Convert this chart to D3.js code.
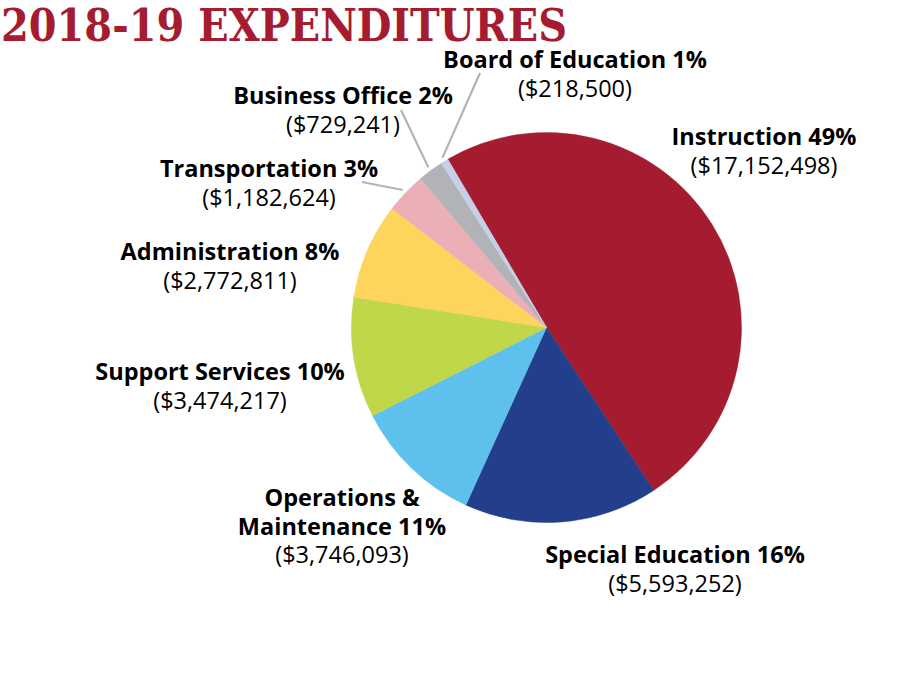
<!DOCTYPE html>
<html>
<head>
<meta charset="utf-8">
<script src="https://cdn.jsdelivr.net/npm/d3@7"></script>
<style>
  body { margin: 0; background: #fff; }
  svg { display: block; }
</style>
</head>
<body>
<svg id="chart" width="915" height="675"></svg>
<script>
// expenditure categories, clockwise from the top
var categories = ["Instruction", "Special Education", "Operations & Maintenance", "Support Services",
                  "Administration", "Transportation", "Business Office", "Board of Education"];
var amounts = [17152498, 5593252, 3746093, 3474217, 2772811, 1182624, 729241, 218500];
var percentLabels = ["49%", "16%", "11%", "10%", "8%", "3%", "2%", "1%"];
var colors = ["#a51c30", "#233f8c", "#5ec0ec", "#c0d74a", "#fdd45c", "#ebb0b7", "#b1b3b6", "#c5d0e6"];

// label placement: centre x, first baseline, optional leader end point
var labelLayout = [
   {x: 764, y: 145},
   {x: 675, y: 563},
   {x: 342, y: 506, lines: ["Operations &", "Maintenance 11%"]},
   {x: 220, y: 380},
   {x: 230, y: 260},
   {x: 269, y: 177, leader: [362, 182]},
   {x: 343, y: 104, leader: [401, 110]},
   {x: 575, y: 68, leader: [480, 73]}
];

var svg = d3.select("#chart"),
   cx = 546.5, cy = 327.5, radius = 195,
   lineH = 28.5;

svg.append("text")
   .attr("x", 1)
   .attr("y", 41)
   .attr("textLength", 566)
   .attr("lengthAdjust", "spacingAndGlyphs")
   .style("font-family", "'DejaVu Serif Condensed', 'DejaVu Serif', serif")
   .style("font-weight", "bold")
   .style("font-size", "45px")
   .style("fill", "#a51c30")
   .text("2018-19 EXPENDITURES");

var start = -30.4 * Math.PI / 180;
var pie = d3.pie().sort(null).value(function (d) { return d; })
            .startAngle(start).endAngle(start + 2 * Math.PI);
var arcs = pie(amounts);

var arc = d3.arc().innerRadius(0).outerRadius(radius);
var g = svg.append("g").attr("transform", "translate(" + cx + "," + cy + ")");

g.selectAll("path.slice")
 .data(arcs)
 .enter().append("path")
 .attr("class", "slice")
 .attr("d", arc)
 .style("fill", function (d, i) { return colors[i]; })
 .style("stroke", function (d, i) { return colors[i]; })
 .style("stroke-width", 0.5);

// leader lines for the thin slices
var outer = d3.arc().innerRadius(radius + 4).outerRadius(radius + 4);
arcs.forEach(function (d, i) {
   var L = labelLayout[i];
   if (!L.leader) return;
   var p = outer.centroid(d);
   svg.append("line")
      .attr("x1", cx + p[0]).attr("y1", cy + p[1])
      .attr("x2", L.leader[0]).attr("y2", L.leader[1])
      .style("stroke", "#b1b3b6")
      .style("stroke-width", 2.2);
});

var labels = svg.append("g")
   .style("font-family", "'Open Sans', sans-serif")
   .style("font-size", "23.5px")
   .style("fill", "#000")
   .attr("text-anchor", "middle");

categories.forEach(function (c, i) {
   var L = labelLayout[i];
   var lines = L.lines || [c + " " + percentLabels[i]];
   var t = labels.append("text").attr("x", L.x).attr("y", L.y);
   lines.forEach(function (s, k) {
      t.append("tspan").attr("x", L.x).attr("dy", k ? lineH : 0)
       .style("font-weight", 700).text(s);
   });
   t.append("tspan").attr("x", L.x).attr("dy", lineH)
    .style("font-weight", 400)
    .text("($" + d3.format(",")(amounts[i]) + ")");
});
</script>
</body>
</html>
